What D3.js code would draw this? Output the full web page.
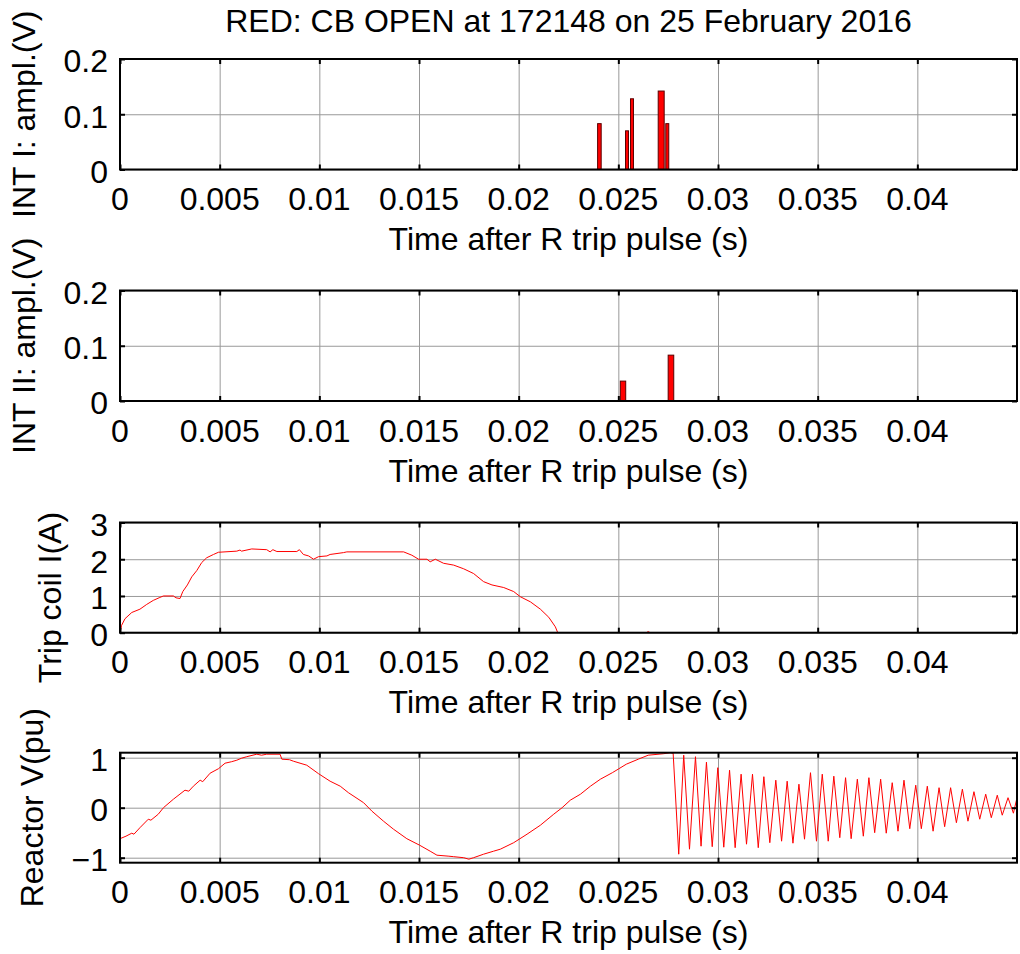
<!DOCTYPE html>
<html>
<head>
<meta charset="utf-8">
<script src="https://cdn.jsdelivr.net/npm/d3@7/dist/d3.min.js"></script>
<style>
  html, body { margin: 0; padding: 0; background: #fff; }
  svg text { font-family: "Liberation Sans", Arial, sans-serif; fill: #000; }
</style>
</head>
<body>
<div id="chart"></div>
<script>
// RED: CB OPEN — four stacked MATLAB-style subplots sharing a time axis.

const titleText = "RED: CB OPEN at 172148 on 25 February 2016";
const xLabelText = "Time after R trip pulse (s)";
const xTicks = [0, 0.005, 0.01, 0.015, 0.02, 0.025, 0.03, 0.035, 0.04];

// INT I bars: [start (s), end (s), amplitude (V)]
const int1Bars = [
  [0.02396, 0.02414, 0.083],
  [0.02536, 0.02551, 0.070],
  [0.02561, 0.02576, 0.128],
  [0.02700, 0.02730, 0.142],
  [0.02738, 0.02753, 0.083]
];
// INT II bars
const int2Bars = [
  [0.02510, 0.02537, 0.036],
  [0.02750, 0.02778, 0.083]
];

// Trip coil current: time (ms), current (A)
const tripT = [0, 0.08, 0.25, 0.59, 1.0, 1.34, 1.67, 2.0, 2.18, 2.68, 2.81, 3.01, 3.15, 3.38, 3.6, 3.85, 4.1, 4.35,
  4.69, 4.94, 5.86, 6.02, 6.1, 6.61, 7.36, 7.53, 7.67, 7.87, 8.87, 9.0, 9.2, 9.46, 9.71, 9.96, 10.38, 10.54, 11.21,
  11.38, 14.23, 14.64, 14.98, 15.4, 15.56, 15.82, 16.23, 16.74, 17.24, 17.74, 18.24, 18.66, 19.25, 19.75, 20.08,
  20.59, 21.09, 21.51, 21.84, 21.96, 26.4, 26.5, 26.6, 45];
const tripI = [0, 0.20, 0.38, 0.55, 0.64, 0.77, 0.88, 0.96, 1.0, 1.0, 0.95, 0.93, 1.12, 1.30, 1.52, 1.69, 1.91, 2.04,
  2.13, 2.19, 2.22, 2.25, 2.22, 2.28, 2.26, 2.20, 2.26, 2.21, 2.21, 2.26, 2.13, 2.09, 2.0, 2.07, 2.09, 2.13, 2.18,
  2.20, 2.20, 2.11, 2.0, 2.0, 1.93, 2.0, 1.89, 1.84, 1.74, 1.61, 1.39, 1.30, 1.23, 1.12, 0.98,
  0.84, 0.64, 0.42, 0.16, 0, 0, 0.03, 0, 0];

// Reactor voltage: time (ms), voltage (pu)
const reactT = [0, 0.3, 0.59, 0.7, 1.0, 1.42, 1.55, 1.92, 2.18, 2.68, 3.26, 3.45, 3.68, 4.02, 4.15, 4.52, 4.94, 5.27,
  5.6, 5.86, 6.1, 6.36, 6.86, 7.1, 7.36, 8.03, 8.12, 8.5, 8.7, 9.37, 9.96, 10.54, 11.05, 11.46, 12.22, 12.64, 13.22,
  13.72, 14.39, 15.03, 15.56, 15.9, 16.5, 16.74, 17.24, 17.5, 17.74, 18.24, 18.74, 19.08, 19.75, 20.42, 21.09, 21.76,
  22.18, 22.59, 23.1, 23.6, 24.1, 24.7, 24.99, 25.4, 26.0, 26.5, 27.28, 27.6,
  27.75, 28.03, 28.28, 28.57, 28.87, 29.15, 29.42, 29.71, 29.99, 30.29, 30.58, 30.86, 31.16, 31.43, 31.73, 32.02,
  32.30, 32.60, 32.90, 33.19, 33.47, 33.76, 34.06, 34.34, 34.64, 34.94, 35.23, 35.53, 35.81, 36.11, 36.40, 36.68,
  36.99, 37.29, 37.57, 37.86, 38.16, 38.44, 38.74, 39.03, 39.33, 39.62, 39.92, 40.20, 40.50, 40.79, 41.09, 41.37,
  41.67, 41.96, 42.26, 42.54, 42.84, 43.13, 43.43, 43.71, 44.01, 44.26, 44.55, 44.82, 45.0];
const reactV = [-0.62, -0.57, -0.51, -0.53, -0.40, -0.23, -0.25, -0.13, 0, 0.17, 0.35, 0.33, 0.43, 0.55, 0.52, 0.69,
  0.78, 0.89, 0.92, 0.95, 0.99, 1.02, 1.07, 1.05, 1.07, 1.07, 0.97, 0.96, 0.93, 0.85, 0.68, 0.53, 0.43, 0.30, 0.10,
  -0.07, -0.27, -0.43, -0.62, -0.75, -0.87, -0.95, -0.97, -0.98, -1.0, -1.03, -1.0, -0.93, -0.87, -0.83, -0.70, -0.53,
  -0.35, -0.13, 0, 0.15, 0.27, 0.43, 0.57, 0.70, 0.77, 0.87, 0.97, 1.05, 1.08, 1.10,
  1.09, -0.93, 1.05, -0.83, 1.02, -0.77, 0.91, -0.78, 0.80, -0.79, 0.75, -0.80, 0.67, -0.73, 0.67, -0.80,
  0.62, -0.70, 0.55, -0.67, 0.53, -0.71, 0.47, -0.63, 0.70, -0.67, 0.67, -0.67, 0.63, -0.60, 0.60, -0.62,
  0.57, -0.57, 0.60, -0.50, 0.57, -0.51, 0.50, -0.47, 0.55, -0.42, 0.45, -0.42, 0.43, -0.47, 0.40, -0.38,
  0.40, -0.30, 0.37, -0.27, 0.32, -0.23, 0.27, -0.20, 0.25, -0.15, 0.20, -0.11, 0.20];

const W = 1020, H = 954;
const left = 120, right = 1017;
const fontSize = 32;

const svg = d3.select("#chart").append("svg")
  .attr("width", W).attr("height", H)
  .attr("font-size", fontSize);

const x = d3.scaleLinear().domain([0, 0.045]).range([left, right]);
const fmt = d3.format("~g");

svg.append("text")
  .attr("x", (left + right) / 2).attr("y", 32)
  .attr("text-anchor", "middle")
  .text(titleText);

function panel(top, bottom, yDomain, yTicks, yLabel, labelShift, drawMarks, id) {
  const y = d3.scaleLinear().domain(yDomain).range([bottom, top]);
  const g = svg.append("g");
  const h = bottom - top;

  g.append("clipPath").attr("id", "clip" + id)
    .append("rect").attr("x", left).attr("y", top).attr("width", right - left).attr("height", h);

  // grid
  g.append("g").attr("transform", `translate(0,${bottom})`)
    .call(d3.axisBottom(x).tickValues(xTicks).tickSize(-h).tickFormat(""))
    .call(s => s.select(".domain").remove())
    .selectAll("line").attr("stroke", "#999").attr("stroke-width", 1);
  g.append("g").attr("transform", `translate(${left},0)`)
    .call(d3.axisLeft(y).tickValues(yTicks).tickSize(-(right - left)).tickFormat(""))
    .call(s => s.select(".domain").remove())
    .selectAll("line").attr("stroke", "#999").attr("stroke-width", 1);

  const marks = g.append("g").attr("clip-path", `url(#clip${id})`);
  drawMarks(marks, y);

  // inward ticks on all four sides
  const tk = 5;
  [[d3.axisBottom(x), `translate(0,${bottom})`, xTicks],
   [d3.axisTop(x), `translate(0,${top})`, xTicks],
   [d3.axisLeft(y), `translate(${left},0)`, yTicks],
   [d3.axisRight(y), `translate(${right},0)`, yTicks]].forEach(([ax, tr, tv]) => {
    g.append("g").attr("transform", tr)
      .call(ax.tickValues(tv).tickSize(-tk).tickFormat(""))
      .call(s => s.select(".domain").remove())
      .selectAll("line").attr("stroke", "#000").attr("stroke-width", 2);
  });

  // frame
  g.append("rect").attr("x", left).attr("y", top).attr("width", right - left).attr("height", h)
    .attr("fill", "none").attr("stroke", "#000").attr("stroke-width", 2);

  // tick labels
  g.selectAll("text.xt").data(xTicks).join("text").attr("class", "xt")
    .attr("x", d => x(d)).attr("y", bottom + 40.5)
    .attr("text-anchor", "middle").text(d => fmt(d));
  const yl = g.selectAll("text.yt").data(yTicks).join("text").attr("class", "yt")
    .attr("x", left - 12).attr("y", d => y(d)).attr("dy", "0.42em")
    .attr("text-anchor", "end").text(d => fmt(d));

  g.append("text")
    .attr("x", (left + right) / 2).attr("y", bottom + 80.5)
    .attr("text-anchor", "middle").text(xLabelText);

  let minLeft = left;
  yl.each(function () { minLeft = Math.min(minLeft, this.getBBox().x); });
  const lx = minLeft - 29, ly = (top + bottom) / 2 + labelShift;
  g.append("text")
    .attr("transform", `translate(${lx},${ly}) rotate(-90)`)
    .attr("text-anchor", "middle").text(yLabel);
}

function bars(data) {
  return (g, y) => {
    g.selectAll("rect").data(data).join("rect")
      .attr("x", d => x(d[0])).attr("width", d => x(d[1]) - x(d[0]))
      .attr("y", d => y(d[2])).attr("height", d => y(0) - y(d[2]))
      .attr("fill", "#ff0000").attr("stroke", "#5a0000").attr("stroke-width", 1);
  };
}

function trace(ts, vs) {
  return (g, y) => {
    const pts = ts.map((t, i) => [t / 1000, vs[i]]);
    g.append("path").datum(pts)
      .attr("fill", "none").attr("stroke", "#ff0000").attr("stroke-width", 1)
      .attr("d", d3.line().x(d => x(d[0])).y(d => y(d[1])));
  };
}

panel(59, 169.5, [0, 0.2], [0, 0.1, 0.2], "INT I: ampl.(V)", 0, bars(int1Bars), 1);
panel(290.5, 401, [0, 0.2], [0, 0.1, 0.2], "INT II: ampl.(V)", 0, bars(int2Bars), 2);
panel(522.5, 632.7, [0, 3], [0, 1, 2, 3], "Trip coil I(A)", 20, trace(tripT, tripI), 3);
panel(752.7, 862.7, [-1.1, 1.1], [-1, 0, 1], "Reactor V(pu)", 0, trace(reactT, reactV), 4);
</script>
</body>
</html>
